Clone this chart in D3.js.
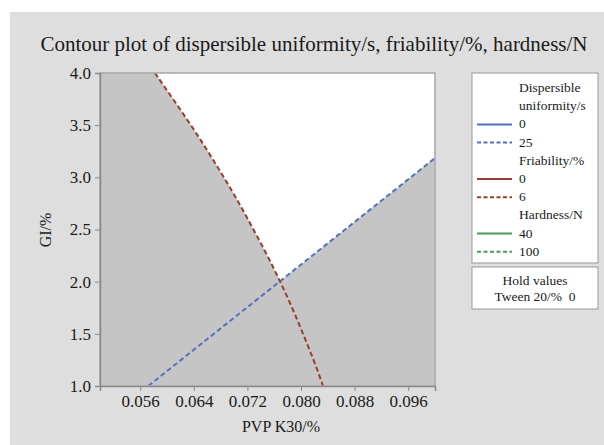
<!DOCTYPE html>
<html><head><meta charset="utf-8">
<script src="https://cdn.jsdelivr.net/npm/d3@7"></script>
<style>body{margin:0;background:#fff}svg{display:block}text{font-family:"Liberation Serif","Times New Roman",serif;fill:#1a1a1a}</style>
</head><body><svg id="c" width="604" height="445"></svg>
<script>
const title = "Contour plot of dispersible uniformity/s, friability/%, hardness/N";
const xLabel = "PVP K30/%";
const yLabel = "GI/%";
const xDomain = [0.05, 0.10];
const yDomain = [1.0, 4.0];
const xTicks = [0.056, 0.064, 0.072, 0.080, 0.088, 0.096];
const yTicks = [1.0, 1.5, 2.0, 2.5, 3.0, 3.5, 4.0];
// Dispersible uniformity = 25 s contour (dashed blue)
const uniformity25 = [[0.0572, 1.0], [0.100, 3.185]];
// Friability = 6 % contour (dashed red)
const friability6 = [[0.0582, 4.0], [0.0609, 3.75], [0.0636, 3.5], [0.0661, 3.25], [0.0685, 3.0], [0.0708, 2.75],
  [0.0729, 2.5], [0.0750, 2.25], [0.0769, 2.0], [0.0787, 1.75], [0.0803, 1.5], [0.0819, 1.25], [0.0833, 1.0]];
const legendGroups = [
  {title: ["Dispersible", "uniformity/s"], color: "#5570c0", levels: ["0", "25"]},
  {title: ["Friability/%"], color: "#9c3d2c", levels: ["0", "6"]},
  {title: ["Hardness/N"], color: "#4b9a52", levels: ["40", "100"]}
];
const holdValues = ["Hold values", "Tween 20/%  0"];

const svg = d3.select("#c");
svg.append("rect").attr("x", 10).attr("y", 12).attr("width", 594).attr("height", 433).attr("fill", "#dedede");

const L = 100, R = 435, T = 73, B = 386;
const x = d3.scaleLinear().domain(xDomain).range([L, R]);
const y = d3.scaleLinear().domain(yDomain).range([B, T]);

svg.append("text").attr("x", 314).attr("y", 51).attr("text-anchor", "middle").attr("font-size", 21).text(title);

svg.append("rect").attr("x", L).attr("y", T).attr("width", R - L).attr("height", B - T).attr("fill", "#c5c5c5");

const defs = svg.append("defs");
const aboveBlue = [...uniformity25, [xDomain[1], yDomain[1]], [xDomain[0], yDomain[1]], [xDomain[0], yDomain[0]]];
defs.append("clipPath").attr("id", "aboveBlue").append("path")
  .attr("d", d3.line().x(d => x(d[0])).y(d => y(d[1]))(aboveBlue) + "Z");
defs.append("clipPath").attr("id", "plotClip").append("rect").attr("x", L).attr("y", T).attr("width", R - L).attr("height", B - T);

const redLine = d3.line().x(d => x(d[0])).y(d => y(d[1])).curve(d3.curveBasis);
const rightOfRed = redLine(friability6) + `L${x(xDomain[1])},${y(yDomain[0])}L${x(xDomain[1])},${y(yDomain[1])}Z`;
svg.append("path").attr("d", rightOfRed).attr("fill", "#ffffff").attr("clip-path", "url(#aboveBlue)");

const g = svg.append("g").attr("clip-path", "url(#plotClip)");
g.append("path").attr("d", d3.line().x(d => x(d[0])).y(d => y(d[1]))(uniformity25))
  .attr("fill", "none").attr("stroke", legendGroups[0].color).attr("stroke-width", 2).attr("stroke-dasharray", "5,3");
g.append("path").attr("d", redLine(friability6))
  .attr("fill", "none").attr("stroke", legendGroups[1].color).attr("stroke-width", 2).attr("stroke-dasharray", "5,3");

svg.append("rect").attr("x", L).attr("y", T).attr("width", R - L).attr("height", B - T).attr("fill", "none").attr("stroke", "#a8a8a8").attr("stroke-width", 1.5);

const xAxis = svg.append("g").attr("transform", `translate(0,${B})`)
  .call(d3.axisBottom(x).tickValues(xTicks).tickFormat(d3.format(".3f")).tickSize(5).tickPadding(4));
const yAxis = svg.append("g").attr("transform", `translate(${L},0)`)
  .call(d3.axisLeft(y).tickValues(yTicks).tickFormat(d3.format(".1f")).tickSize(5).tickPadding(4));
[xAxis, yAxis].forEach(a => {
  a.select(".domain").attr("stroke", "#8a8a8a").attr("stroke-width", 1.5);
  a.selectAll(".tick line").attr("stroke", "#8a8a8a");
  a.selectAll("text").attr("font-size", 17).attr("fill", "#2a2a2a").attr("font-family", "Liberation Serif, serif");
});

svg.append("text").attr("x", 281).attr("y", 432).attr("text-anchor", "middle").attr("font-size", 16).text(xLabel);
svg.append("text").attr("transform", "translate(51,230) rotate(-90)").attr("text-anchor", "middle").attr("font-size", 16).text(yLabel);

svg.append("rect").attr("x", 472).attr("y", 73).attr("width", 126).attr("height", 190).attr("fill", "#fff").attr("stroke", "#999");
let ly = 92;
const step = 18.2;
legendGroups.forEach(gr => {
  gr.title.forEach(t => {
    svg.append("text").attr("x", 519).attr("y", ly).attr("font-size", 13.5).text(t);
    ly += step;
  });
  gr.levels.forEach((lv, i) => {
    svg.append("line").attr("x1", 477).attr("x2", 512).attr("y1", ly - 4).attr("y2", ly - 4)
      .attr("stroke", gr.color).attr("stroke-width", 2).attr("stroke-dasharray", i === 0 ? null : "4,2.5");
    svg.append("text").attr("x", 519).attr("y", ly).attr("font-size", 13.5).text(lv);
    ly += step;
  });
});

svg.append("rect").attr("x", 472).attr("y", 267).attr("width", 126).attr("height", 42).attr("fill", "#fff").attr("stroke", "#999");
holdValues.forEach((t, i) => {
  svg.append("text").attr("x", 535).attr("y", 285 + i * 16).attr("text-anchor", "middle").attr("font-size", 13.5).style("white-space", "pre").text(t);
});
</script></body></html>
